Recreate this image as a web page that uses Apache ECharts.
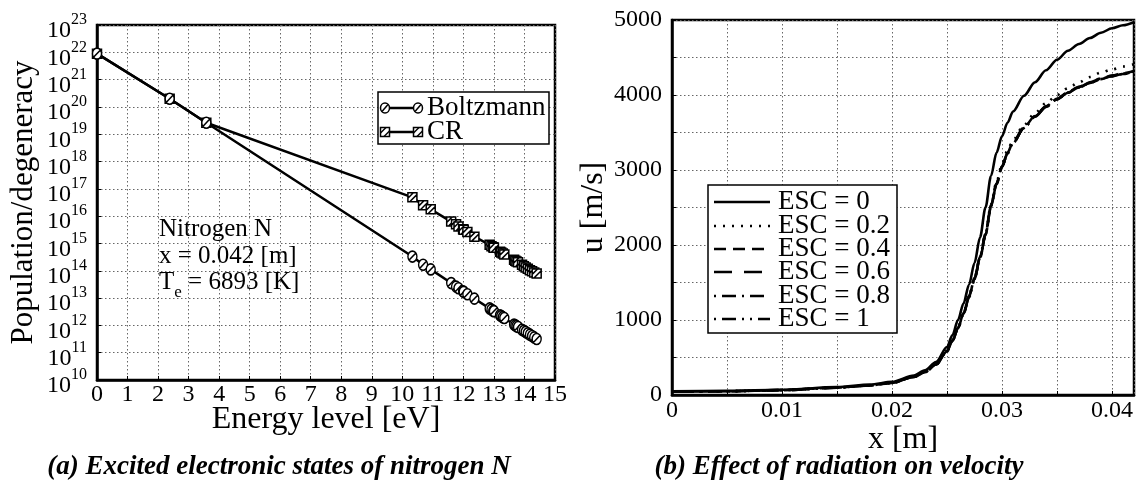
<!DOCTYPE html>
<html>
<head>
<meta charset="utf-8">
<script src="https://cdn.jsdelivr.net/npm/echarts@6/dist/echarts.min.js"></script>
<style>
html,body{margin:0;padding:0;background:#fff;}
#chart{width:1140px;height:483px;}
</style>
</head>
<body>
<div id="chart"></div>
<script>
// ---------- Data: (a) Excited electronic states of nitrogen N ----------
const energyLevels = [0, 2.38, 3.58, 10.33, 10.68, 10.93, 11.60, 11.76, 11.84, 11.99, 12.01, 12.13, 12.36,
  12.86, 12.92, 12.98, 13.00, 13.20, 13.24, 13.29, 13.34,
  13.66, 13.70, 13.74, 13.79, 13.92, 13.98, 14.04, 14.11, 14.18, 14.25, 14.32, 14.40];
const boltzmannLog10 = [21.95, 20.30, 19.42, 14.52, 14.22, 14.05, 13.55, 13.42, 13.36, 13.25, 13.23, 13.14, 12.98,
  12.62, 12.58, 12.53, 12.52, 12.37, 12.34, 12.30, 12.27,
  12.03, 12.00, 11.97, 11.94, 11.84, 11.80, 11.76, 11.71, 11.66, 11.61, 11.56, 11.50];
const crLog10 = [21.95, 20.30, 19.42, 16.69, 16.40, 16.25, 15.80, 15.70, 15.62, 15.52, 15.50, 15.42, 15.25,
  14.95, 14.90, 14.86, 14.84, 14.70, 14.67, 14.63, 14.60,
  14.40, 14.37, 14.34, 14.31, 14.22, 14.17, 14.12, 14.07, 14.02, 13.98, 13.94, 13.90];
const energyTickLabels = ['0','1','2','3','4','5','6','7','8','9','10','11','12','13','14','15'];
const popExpMin = 10, popExpMax = 23;

// ---------- Data: (b) Effect of radiation on velocity ----------
const xPositions = [0, 0.005, 0.01, 0.015, 0.018, 0.02, 0.022, 0.023, 0.024, 0.025, 0.0255, 0.026, 0.0265,
  0.027, 0.0275, 0.028, 0.0285, 0.029, 0.0295, 0.030, 0.0305, 0.031, 0.032, 0.033, 0.034, 0.035,
  0.036, 0.037, 0.038, 0.039, 0.040, 0.041, 0.042];
const uEsc0  = [50, 55, 70, 105, 140, 175, 260, 330, 440, 640, 800, 1000, 1220, 1470, 1760, 2100, 2500, 2920, 3230,
  3450, 3630, 3780, 3990, 4170, 4330, 4470, 4590, 4680, 4760, 4830, 4890, 4930, 4970];
const uEsc02 = [45, 50, 65, 100, 130, 165, 245, 310, 410, 590, 730, 900, 1090, 1320, 1560, 1840, 2150, 2540, 2840,
  3080, 3260, 3400, 3600, 3760, 3890, 4000, 4090, 4170, 4240, 4300, 4340, 4380, 4410];
const uEsc04 = [45, 50, 65, 100, 130, 165, 245, 310, 410, 590, 730, 900, 1090, 1320, 1560, 1840, 2150, 2530, 2820,
  3050, 3230, 3370, 3570, 3720, 3850, 3950, 4040, 4110, 4170, 4220, 4260, 4290, 4320];
const uEsc06 = [45, 50, 65, 98, 128, 162, 240, 305, 405, 580, 720, 890, 1080, 1300, 1540, 1820, 2130, 2510, 2810,
  3040, 3220, 3360, 3560, 3710, 3840, 3940, 4030, 4100, 4160, 4210, 4250, 4280, 4310];
const uEsc08 = [45, 50, 65, 99, 129, 163, 242, 307, 407, 585, 725, 895, 1085, 1310, 1550, 1830, 2140, 2520, 2815,
  3045, 3225, 3365, 3565, 3715, 3845, 3945, 4035, 4105, 4165, 4215, 4255, 4285, 4315];
const uEsc1  = [45, 50, 65, 98, 128, 162, 241, 306, 406, 582, 722, 892, 1082, 1305, 1545, 1825, 2135, 2515, 2812,
  3042, 3222, 3362, 3562, 3712, 3842, 3942, 4032, 4102, 4162, 4212, 4252, 4282, 4312];
const escNames = ['ESC = 0', 'ESC = 0.2', 'ESC = 0.4', 'ESC = 0.6', 'ESC = 0.8', 'ESC = 1'];
const velXTickLabels = ['0', '0.01', '0.02', '0.03', '0.04'];
const velYTickLabels = ['0', '1000', '2000', '3000', '4000', '5000'];

// ---------- Styles ----------
const FONT = "'Liberation Serif', 'Times New Roman', serif";
const gridLine = { show: true, lineStyle: { color: '#666', type: [1.5, 2.5], width: 1 } };
const axisLineStyle = { show: true, lineStyle: { color: '#000', width: 2.5 } };
const tickStyle = { show: true, inside: true, length: 4, lineStyle: { color: '#000', width: 1 } };
const circleHatch = 'path://M0,10A10,10,0,1,1,20,10A10,10,0,1,1,0,10ZM3,16L17,4';
const squareHatch = 'path://M0,0L20,0L20,20L0,20ZM0,12L12,0M4,20L20,4';
const escDash = ['solid', [2, 7], [12, 7], [18, 12], [2, 6, 14, 6], [2, 6, 14, 6, 2, 6]];
const escData = [uEsc0, uEsc02, uEsc04, uEsc06, uEsc08, uEsc1];

const pow10 = e => Math.pow(10, e);
const powLabelRich = {
  b: { fontSize: 24, fontFamily: FONT, lineHeight: 2, padding: [12, 0, 0, 0] },
  s: { fontSize: 16, fontFamily: FONT, lineHeight: 2, padding: [1, 0, 11, 0] }
};
const powLabel = v => '{b|10}{s|' + Math.round(Math.log10(v)) + '}';

const velSeries = escData.map((arr, i) => ({
  name: escNames[i],
  type: 'line',
  xAxisIndex: 1, yAxisIndex: 1,
  data: xPositions.map((x, j) => [x, arr[j]]),
  showSymbol: false,
  symbol: 'none',
  smooth: 0.3,
  smoothMonotone: 'x',
  lineStyle: { color: '#000', width: 2.6, type: escDash[i], cap: 'butt' },
  z: 3 + (6 - i)
}));

// ---------- Legends (drawn as graphics) ----------
const graphics = [];
// left legend
graphics.push({ type: 'rect', shape: { x: 378, y: 92, width: 171, height: 52 },
  style: { fill: '#fff', stroke: '#000', lineWidth: 1.5 }, z: 100 });
[[108, 'Boltzmann', 'circle'], [132, 'CR', 'square']].forEach(([y, label, kind]) => {
  graphics.push({ type: 'line', shape: { x1: 385, y1: y, x2: 418, y2: y }, style: { stroke: '#000', lineWidth: 2.5 }, z: 101 });
  [385, 418].forEach(cx => {
    if (kind === 'circle') {
      graphics.push({ type: 'ellipse', shape: { cx: cx, cy: y, rx: 4.5, ry: 5 }, style: { fill: '#fff', stroke: '#000', lineWidth: 1.5 }, z: 102 });
      graphics.push({ type: 'line', shape: { x1: cx - 3, y1: y + 3.5, x2: cx + 3, y2: y - 3.5 }, style: { stroke: '#000', lineWidth: 1.5 }, z: 103 });
    } else {
      graphics.push({ type: 'rect', shape: { x: cx - 4.5, y: y - 4.5, width: 9, height: 9 }, style: { fill: '#fff', stroke: '#000', lineWidth: 1.5 }, z: 102 });
      graphics.push({ type: 'line', shape: { x1: cx - 4.5, y1: y + 1, x2: cx + 1, y2: y - 4.5 }, style: { stroke: '#000', lineWidth: 1.5 }, z: 103 });
      graphics.push({ type: 'line', shape: { x1: cx - 1, y1: y + 4.5, x2: cx + 4.5, y2: y - 1 }, style: { stroke: '#000', lineWidth: 1.5 }, z: 103 });
    }
  });
  graphics.push({ type: 'text', x: 427, y: y, z: 104,
    style: { text: label, fontSize: 27, fontFamily: FONT, fill: '#000', align: 'left', verticalAlign: 'middle' } });
});
// right legend
graphics.push({ type: 'rect', shape: { x: 708, y: 185, width: 189, height: 148 },
  style: { fill: '#fff', stroke: '#000', lineWidth: 1.5 }, z: 100 });
const legendRows = [202, 226, 249, 272, 296, 319];
escNames.forEach((name, i) => {
  const y = legendRows[i];
  graphics.push({ type: 'line', shape: { x1: 714, y1: y, x2: 770, y2: y },
    style: { stroke: '#000', lineWidth: 2.6, lineDash: escDash[i] === 'solid' ? null : escDash[i] }, z: 101 });
  graphics.push({ type: 'text', x: 778, y: y, z: 104,
    style: { text: name, fontSize: 27, fontFamily: FONT, fill: '#000', align: 'left', verticalAlign: 'middle' } });
});
// annotation in left plot
graphics.push({ type: 'text', x: 159, y: 229, z: 50,
  style: { text: 'Nitrogen N', fontSize: 25, fontFamily: FONT, fill: '#000', align: 'left', verticalAlign: 'middle' } });
graphics.push({ type: 'text', x: 159, y: 256, z: 50,
  style: { text: 'x = 0.042 [m]', fontSize: 25, fontFamily: FONT, fill: '#000', align: 'left', verticalAlign: 'middle' } });
graphics.push({ type: 'text', x: 159, y: 282, z: 50,
  style: { text: '{a|T}{b|e}{a| = 6893 [K]}', fill: '#000', align: 'left', verticalAlign: 'middle',
    rich: { a: { fontSize: 25, fontFamily: FONT, lineHeight: 25 },
            b: { fontSize: 17, fontFamily: FONT, lineHeight: 17, padding: [22, 0, 0, 0] } } } });
// captions
graphics.push({ type: 'text', x: 279, y: 467, z: 50,
  style: { text: '(a) Excited electronic states of nitrogen N', fontSize: 27, fontFamily: FONT, fontStyle: 'italic', fontWeight: 'bold', fill: '#000', align: 'center', verticalAlign: 'middle' } });
graphics.push({ type: 'text', x: 839, y: 467, z: 50,
  style: { text: '(b) Effect of radiation on velocity', fontSize: 27, fontFamily: FONT, fontStyle: 'italic', fontWeight: 'bold', fill: '#000', align: 'center', verticalAlign: 'middle' } });

const option = {
  animation: false,
  backgroundColor: '#fff',
  textStyle: { fontFamily: FONT },
  grid: [
    { left: 97, top: 25, width: 458, height: 355, show: true, borderColor: '#000', borderWidth: 2.5, backgroundColor: 'transparent' },
    { left: 672, top: 20, width: 462, height: 375, show: true, borderColor: '#000', borderWidth: 2.5, backgroundColor: 'transparent' }
  ],
  xAxis: [
    { type: 'value', gridIndex: 0, min: 0, max: 15, interval: 1,
      name: 'Energy level [eV]', nameLocation: 'middle', nameGap: 24, nameMoveOverlap: false,
      nameTextStyle: { fontSize: 32, fontFamily: FONT, color: '#000' },
      axisLine: axisLineStyle, axisTick: tickStyle, splitLine: gridLine,
      axisLabel: { fontSize: 24, fontFamily: FONT, color: '#000', margin: 3, showMaxLabel: true, hideOverlap: false,
        formatter: v => energyTickLabels[Math.round(v)] || '' } },
    { type: 'value', gridIndex: 1, min: 0, max: 0.042, interval: 0.005,
      name: 'x [m]', nameLocation: 'middle', nameGap: 29, nameMoveOverlap: false,
      nameTextStyle: { fontSize: 32, fontFamily: FONT, color: '#000' },
      axisLine: axisLineStyle, axisTick: tickStyle, splitLine: gridLine,
      axisLabel: { fontSize: 24, fontFamily: FONT, color: '#000', margin: 4, showMaxLabel: false,
        formatter: v => { const s = String(+v.toFixed(3)); return velXTickLabels.indexOf(s) >= 0 ? s : ''; } } }
  ],
  yAxis: [
    // main log axis: inner decade labels (10^11 .. 10^22)
    { type: 'log', logBase: 10, gridIndex: 0, position: 'left', offset: 0,
      min: pow10(popExpMin), max: pow10(popExpMax), interval: 1,
      name: 'Population/degeneracy', nameLocation: 'middle', nameGap: 58, nameMoveOverlap: false,
      nameTextStyle: { fontSize: 31, fontFamily: FONT, color: '#000' },
      axisLine: axisLineStyle, axisTick: tickStyle, splitLine: gridLine, minorTick: { show: false },
      axisLabel: { color: '#000', margin: 10, showMinLabel: false, showMaxLabel: false, hideOverlap: false,
        formatter: powLabel, rich: powLabelRich } },
    { type: 'value', gridIndex: 1, min: 0, max: 5000, interval: 500,
      name: 'u [m/s]', nameLocation: 'middle', nameGap: 62, nameMoveOverlap: false,
      nameTextStyle: { fontSize: 32, fontFamily: FONT, color: '#000' },
      axisLine: axisLineStyle, axisTick: tickStyle, splitLine: gridLine,
      axisLabel: { fontSize: 24, fontFamily: FONT, color: '#000', margin: 10,
        formatter: v => { const s = String(Math.round(v)); return velYTickLabels.indexOf(s) >= 0 ? s : ''; } } },
    // overlay log axis: only the end labels (10^10 and 10^23)
    { type: 'log', logBase: 10, gridIndex: 0, position: 'left', offset: 0,
      min: pow10(popExpMin), max: pow10(popExpMax), interval: 1,
      axisLine: { show: false }, axisTick: { show: false }, splitLine: { show: false }, minorTick: { show: false },
      axisLabel: { color: '#000', margin: 10, showMinLabel: true, showMaxLabel: true, hideOverlap: false,
        formatter: v => { const e = Math.round(Math.log10(v)); return (e === popExpMin || e === popExpMax) ? powLabel(v) : ''; },
        rich: powLabelRich } }
  ],
  series: [
    { name: 'CR', type: 'line', xAxisIndex: 0, yAxisIndex: 0,
      data: energyLevels.map((e, i) => [e, pow10(crLog10[i])]),
      symbol: squareHatch, symbolSize: 9, showAllSymbol: true,
      itemStyle: { color: '#fff', borderColor: '#000', borderWidth: 1.5 },
      lineStyle: { color: '#000', width: 2.5 }, z: 3 },
    { name: 'Boltzmann', type: 'line', xAxisIndex: 0, yAxisIndex: 0,
      data: energyLevels.map((e, i) => [e, pow10(boltzmannLog10[i])]),
      symbol: circleHatch, symbolSize: [9, 11], showAllSymbol: true,
      itemStyle: { color: '#fff', borderColor: '#000', borderWidth: 1.5 },
      lineStyle: { color: '#000', width: 2.5 }, z: 6 },
    ...velSeries
  ],
  graphic: graphics
};

const chart = echarts.init(document.getElementById('chart'), null, { renderer: 'canvas' });
chart.setOption(option);
</script>
</body>
</html>
